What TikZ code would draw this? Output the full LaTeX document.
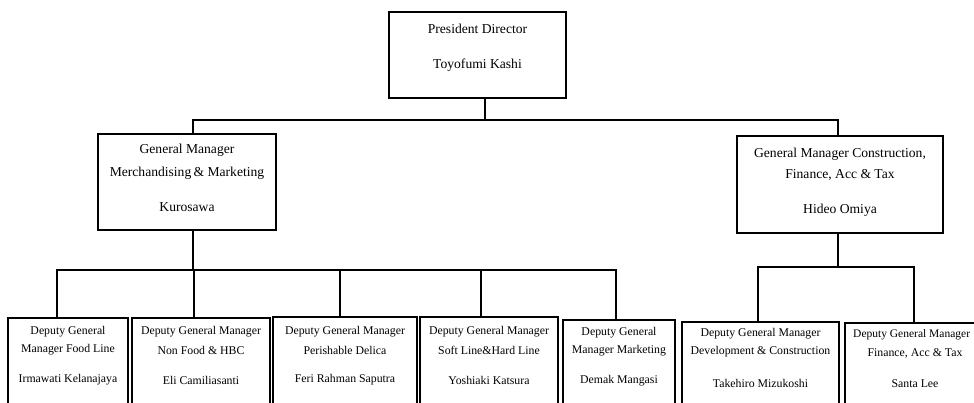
\documentclass[tikz,border=0pt]{standalone}
\usepackage{fontspec}
\setmainfont{Liberation Serif}
\begin{document}
\begin{tikzpicture}[x=1pt,y=-1pt,
  box/.style={draw=black,line width=1.6pt,rectangle,inner sep=0pt,outer sep=0pt,anchor=north west,fill=white},
  big/.style={font=\fontsize{13.6}{16}\selectfont,align=center,inner sep=0pt},
  small/.style={font=\fontsize{11.8}{14}\selectfont,align=center,inner sep=0pt},
  conn/.style={draw=black,line width=1.6pt}]
\useasboundingbox (0,0) rectangle (974,403);
\clip (0,0) rectangle (974,403);
% boxes
\node[box,minimum width=177pt,minimum height=86pt] (pres) at (389,12) {};
\node[box,minimum width=178pt,minimum height=96pt] (gm1) at (98,134) {};
\node[box,minimum width=206pt,minimum height=97pt] (gm2) at (737,136) {};
\node[box,minimum width=120pt,minimum height=110pt] (d1) at (8,318) {};
\node[box,minimum width=138pt,minimum height=110pt] (d2) at (132,318) {};
\node[box,minimum width=144pt,minimum height=110pt] (d3) at (273,317) {};
\node[box,minimum width=138pt,minimum height=110pt] (d4) at (420,317) {};
\node[box,minimum width=112pt,minimum height=110pt] (d5) at (563,320) {};
\node[box,minimum width=157pt,minimum height=110pt] (d6) at (682,322) {};
\node[box,minimum width=140pt,minimum height=110pt] (d7) at (845,323) {};
% texts
\node[big] (tp1) at (pres.north |- 0,29) {President Director};
\node[big] (tp2) at (pres.north |- 0,65) {Toyofumi Kashi};
\node[big] (tg1a) at (gm1.north |- 0,150) {General Manager};
\node[big] (tg1b) at (gm1.north |- 0,173) {Merchandising\,\& Marketing};
\node[big] (tg1c) at (gm1.north |- 0,207) {Kurosawa};
\node[big] (tg2a) at (gm2.north |- 0,154) {General Manager Construction,};
\node[big] (tg2b) at (gm2.north |- 0,175) {Finance, Acc \& Tax};
\node[big] (tg2c) at (gm2.north |- 0,210) {Hideo Omiya};
\node[small] (t1a) at (d1.north |- 0,332) {Deputy General};
\node[small] (t1b) at (d1.north |- 0,350) {Manager Food Line};
\node[small] (t1c) at (d1.north |- 0,380) {Irmawati Kelanajaya};
\node[small] (t2a) at (d2.north |- 0,332) {Deputy General Manager};
\node[small] (t2b) at (d2.north |- 0,350) {Non Food \& HBC};
\node[small] (t2c) at (d2.north |- 0,380) {Eli Camiliasanti};
\node[small] (t3a) at (d3.north |- 0,332) {Deputy General Manager};
\node[small] (t3b) at (d3.north |- 0,350) {Perishable Delica};
\node[small] (t3c) at (d3.north |- 0,380) {Feri Rahman Saputra};
\node[small] (t4a) at (d4.north |- 0,332) {Deputy General Manager};
\node[small] (t4b) at (d4.north |- 0,350) {Soft Line\&Hard Line};
\node[small] (t4c) at (d4.north |- 0,380) {Yoshiaki Katsura};
\node[small] (t5a) at (d5.north |- 0,333) {Deputy General};
\node[small] (t5b) at (d5.north |- 0,351) {Manager Marketing};
\node[small] (t5c) at (d5.north |- 0,381) {Demak Mangasi};
\node[small] (t6a) at (d6.north |- 0,334) {Deputy General Manager};
\node[small] (t6b) at (d6.north |- 0,352) {Development \& Construction};
\node[small] (t6c) at (d6.north |- 0,383) {Takehiro Mizukoshi};
\node[small,font=\fontsize{11.5}{14}\selectfont] (t7a) at (d7.north west |- 0,335) [anchor=west,xshift=8pt] {Deputy General Manager};
\node[small] (t7b) at (d7.north |- 0,353) {Finance, Acc \& Tax};
\node[small] (t7c) at (d7.north |- 0,384) {Santa Lee};
% junction coordinates
\coordinate (j0) at (485,120);
\coordinate (jg1) at (193,120);
\coordinate (jg2) at (838,120);
\coordinate (jl) at (193,270);
\coordinate (jr) at (838,267);
\coordinate (x1) at (57,270);
\coordinate (x2) at (194,270);
\coordinate (x3) at (340,270);
\coordinate (x4) at (481,270);
\coordinate (x5) at (616,270);
\coordinate (x6) at (758,267);
\coordinate (x7) at (914,267);
% connectors
\draw[conn] (j0 |- pres.south) -- (j0);
\draw[conn] (jg1 |- gm1.north) -- (jg1) -- (jg2) -- (jg2 |- gm2.north);
\draw[conn] (jl |- gm1.south) -- (jl);
\draw[conn] (x1 |- d1.north) -- (x1) -- (x5) -- (x5 |- d5.north);
\draw[conn] (x2) -- (x2 |- d2.north);
\draw[conn] (x3) -- (x3 |- d3.north);
\draw[conn] (x4) -- (x4 |- d4.north);
\draw[conn] (jr |- gm2.south) -- (jr);
\draw[conn] (x6 |- d6.north) -- (x6) -- (x7) -- (x7 |- d7.north);
\end{tikzpicture}
\end{document}
